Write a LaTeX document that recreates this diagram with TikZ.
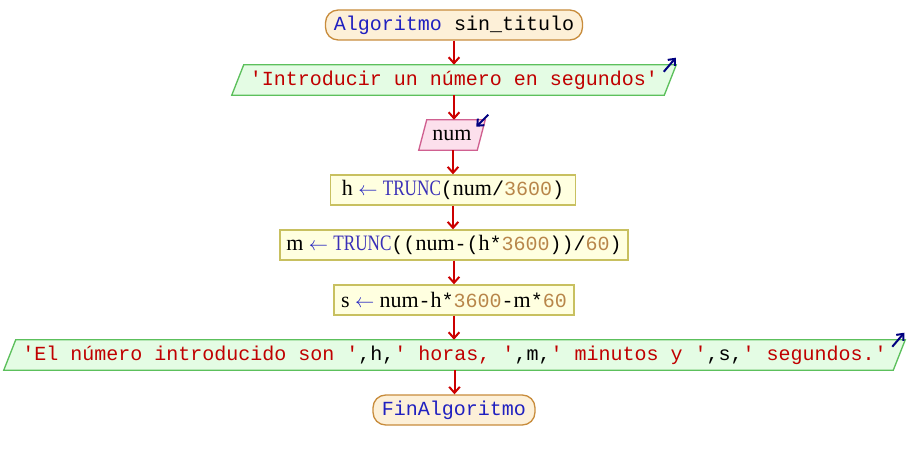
\documentclass[tikz,border=0pt]{standalone}
\usepackage{fontspec}
\usepackage{graphicx}
\setmainfont{Liberation Serif}
\setmonofont{Liberation Mono}
\usetikzlibrary{arrows.meta,calc,backgrounds}
\definecolor{kwc}{HTML}{2020C0}
\definecolor{fnc}{HTML}{3A30B8}
\definecolor{strc}{HTML}{C00000}
\definecolor{numc}{HTML}{B8864A}
\definecolor{flowc}{HTML}{CC0000}
\definecolor{navyc}{HTML}{000080}
\definecolor{termfill}{HTML}{FDF0D8}
\definecolor{termdraw}{HTML}{C88C3C}
\definecolor{outfill}{HTML}{E4FCE4}
\definecolor{outdraw}{HTML}{5CC05C}
\definecolor{infill}{HTML}{FCE0EC}
\definecolor{indraw}{HTML}{D06090}
\definecolor{asgfill}{HTML}{FFFFE0}
\definecolor{asgdraw}{HTML}{C8C060}
\newcommand\pxu{0.75pt}
\newcommand\pkw[1]{{\color{kwc}#1}}
\newcommand\pstr[1]{{\color{strc}#1}}
\newcommand\pnum[1]{{\color{numc}#1}}
\newcommand\pid[1]{{\rmfamily\fontsize{16.5}{18}\selectfont #1}}
\newcommand\pfn[1]{{\rmfamily\fontsize{16.5}{18}\selectfont\color{fnc}\scalebox{0.78}[1]{#1}}}
\newcommand\parr{\hspace{4pt}{\color{kwc}$\leftarrow$}\hspace{4pt}}
\newcommand\paral[3]{\path[#3] ($(#1.south west)+(-#2,0)$) -- ($(#1.north west)+(#2,0)$) -- ($(#1.north east)+(#2,0)$) -- ($(#1.south east)+(-#2,0)$) -- cycle;}
\begin{document}
\begin{tikzpicture}[x=0.75pt,y=-0.75pt,
  font=\fontsize{15}{18}\selectfont\ttfamily,
  box/.style={minimum height={30*\pxu}, inner sep=0pt, anchor=center},
  term/.style={box, draw=termdraw, fill=termfill, line width=1pt, rounded corners=9.5pt},
  asg/.style={box, draw=asgdraw, fill=asgfill, line width=1pt},
  plain/.style={box},
  outshape/.style={draw=outdraw, fill=outfill, line width=1pt},
  inshape/.style={draw=indraw, fill=infill, line width=1pt},
  flow/.style={draw=flowc, line width=1.5pt, -{Straight Barb[length=4.5pt,width=8pt,line width=1.5pt]}},
  iomark/.style={draw=navyc, line width=1.5pt, -{Straight Barb[length=4pt,width=7pt,line width=1.5pt]}}]
\begin{pgfonlayer}{background}
\fill[white] (0,0) rectangle (908,460);
\end{pgfonlayer}
\useasboundingbox (0,0) rectangle (908,460);

\node[term, minimum width={257*\pxu}] (start) at (454,25) {\pkw{Algoritmo} sin\_titulo};
\node[plain, minimum width={432*\pxu}] (out1) at (454,80) {\pstr{'Introducir un número en segundos'}};
\node[plain, minimum width={58*\pxu}] (inp) at (452,135) {\pid{num}};
\node[asg, minimum width={245*\pxu}] (ah) at (453,190) {\pid{h}\parr\pfn{TRUNC}(\pid{num}/\pnum{3600})};
\node[asg, minimum width={348*\pxu}] (am) at (454,245) {\pid{m}\parr\pfn{TRUNC}((\pid{num}-(\pid{h}*\pnum{3600}))/\pnum{60})};
\node[asg, minimum width={240*\pxu}] (as) at (454,300) {\pid{s}\parr\pid{num}-\pid{h}*\pnum{3600}-\pid{m}*\pnum{60}};
\node[plain, minimum width={889*\pxu}] (out2) at (454.5,355) {\pstr{'El número introducido son '},h,\pstr{' horas, '},m,\pstr{' minutos y '},s,\pstr{' segundos.'}};
\node[term, minimum width={162*\pxu}] (fin) at (454,410) {\pkw{FinAlgoritmo}};

\begin{pgfonlayer}{background}
\paral{out1}{6}{outshape}
\paral{inp}{4}{inshape}
\paral{out2}{6}{outshape}
\end{pgfonlayer}

\coordinate (o1t) at ($(out1.north east)+(-6.5,7)$);
\coordinate (o1h) at ($(out1.north east)+(5.5,-7)$);
\coordinate (o2t) at ($(out2.north east)+(-7,7)$);
\coordinate (o2h) at ($(out2.north east)+(5,-7)$);
\coordinate (it) at ($(inp.north east)+(7,-5)$);
\coordinate (ih) at ($(inp.north east)+(-5,7)$);
\draw[iomark] (o1t) -- (o1h);
\draw[iomark] (o2t) -- (o2h);
\draw[iomark] (it) -- (ih);

\draw[flow] (start.south) -- (start.south |- out1.north);
\draw[flow] (out1.south) -- (out1.south |- inp.north);
\draw[flow] (inp.south -| ah.north) -- (ah.north);
\draw[flow] (ah.south) -- (ah.south |- am.north);
\draw[flow] (am.south) -- (am.south |- as.north);
\draw[flow] (as.south) -- (as.south |- out2.north);
\draw[flow] (out2.south) -- (out2.south |- fin.north);
\end{tikzpicture}
\end{document}
